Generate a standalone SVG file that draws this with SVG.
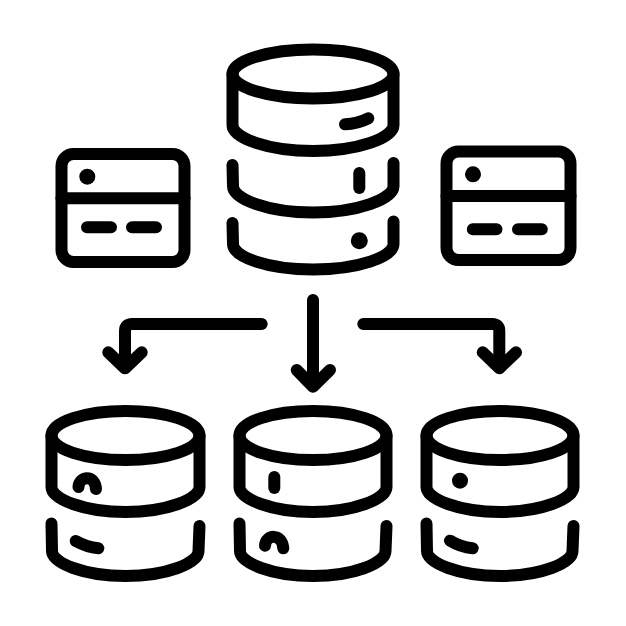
<svg xmlns="http://www.w3.org/2000/svg" width="626" height="626" viewBox="0 0 626 626">
<style>
.s{fill:none;stroke:#000;stroke-width:12;stroke-linecap:round;stroke-linejoin:round}
.d{fill:#000}
</style>
<rect width="626" height="626" fill="#fff"/>
<g id="db-top">
<ellipse class="s" cx="313" cy="74" rx="80.500" ry="24.500"/>
<path class="s" d="M232.500 74V125C232.500 138 268 151 313 151S393.500 138 393.500 125V74"/>
<path class="s" d="M345 124.300C353 124 361 122 368.300 118.300"/>
<path class="s" d="M232.500 165L233 186C233 199 268 212.500 313 212.500S393.500 199 393.500 186V163"/>
<path class="s" d="M359.300 173V188"/>
<path class="s" d="M232.500 223L233 244C233 257 268 269.500 313 269.500S393.500 257 393.500 244V221.500"/>
<circle class="d" cx="359.300" cy="240.700" r="8.500"/>
</g>
<g id="panel-left">
<rect class="s" x="61.500" y="154" width="123" height="108" rx="12"/>
<path class="s" d="M61.500 198.300H184.500"/>
<circle class="d" cx="87.300" cy="176.700" r="8"/>
<path class="s" d="M87 227.300H111M132 227.300H156"/>
</g>
<g id="panel-right">
<rect class="s" x="446.500" y="151.500" width="124" height="108.500" rx="12"/>
<path class="s" d="M446.500 196H570.500"/>
<circle class="d" cx="473" cy="174.300" r="8"/>
<path class="s" d="M472.800 229.300H496.500M518 229.300H541.800"/>
</g>
<g id="connectors">
<path class="s" d="M261.700 324H132Q125 324 125 331V366"/>
<path class="s" d="M108.300 352.300L125 368.300L141.700 352.300"/>
<path class="s" d="M313 300V385"/>
<path class="s" d="M296.700 370L313 386.700L330 370"/>
<path class="s" d="M363.300 324H492.300Q499.300 324 499.300 331V366"/>
<path class="s" d="M482.700 352.300L499.300 368.300L516 352.300"/>
</g>
<g id="db-left">
<ellipse class="s" cx="125.500" cy="435.500" rx="74" ry="24.500"/>
<path class="s" d="M51.500 435.500V487C51.500 499 84 512 125.500 512S199.500 499 199.500 487V435.500"/>
<path class="s" d="M78.500 487C79 476 95 474 96 489"/>
<path class="s" d="M51.500 523.500L52 551C52 563 84 576 125.500 576S198.500 563 198.500 551L199.500 526"/>
<path class="s" d="M75.700 541C83 545 90 547.500 98.300 548.300"/>
</g>
<g id="db-middle">
<ellipse class="s" cx="313" cy="435.500" rx="73.500" ry="24.500"/>
<path class="s" d="M239.500 435.500V487C239.500 499 272 512 313 512S386.500 499 386.500 487V435.500"/>
<path class="s" d="M274.300 477V488"/>
<path class="s" d="M239.500 523.500L240 551C240 563 272 576 313 576S385.500 563 385.500 551L386.500 526"/>
<path class="s" d="M265 545.700C266 534 282 533 283.300 548.300"/>
</g>
<g id="db-right">
<ellipse class="s" cx="500" cy="435.500" rx="73.500" ry="24.500"/>
<path class="s" d="M426.500 435.500V487C426.500 499 459 512 500 512S573.500 499 573.500 487V435.500"/>
<circle class="d" cx="460" cy="480.700" r="8"/>
<path class="s" d="M426.500 523.500L427 551C427 563 459 576 500 576S572.500 563 572.500 551L573.500 526"/>
<path class="s" d="M450 540.700C457 545 464 547.500 472.700 548.300"/>
</g>
</svg>
